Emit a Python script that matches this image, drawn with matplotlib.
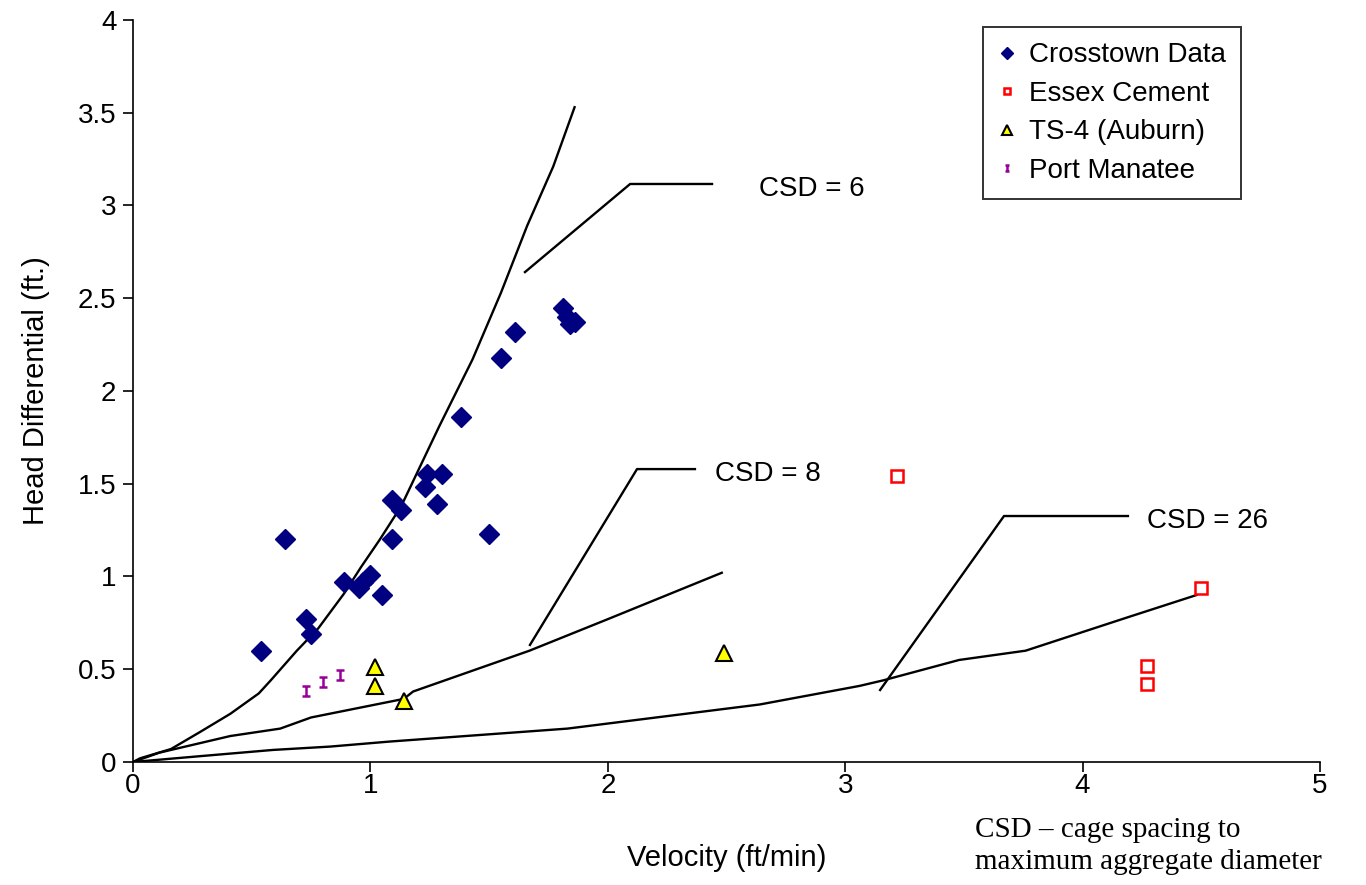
import matplotlib
matplotlib.use("Agg")
import matplotlib.pyplot as plt
from matplotlib.path import Path

plt.rcParams['font.family'] = ['Liberation Sans', 'DejaVu Sans']

# Measured data
crosstown_v = [0.54, 0.64, 0.73, 0.75, 0.89, 0.95, 0.97, 1.00, 1.05, 1.09, 1.09,
               1.13, 1.23, 1.24, 1.30, 1.28, 1.50, 1.38, 1.55, 1.61, 1.81, 1.83,
               1.84, 1.86]
crosstown_h = [0.60, 1.20, 0.77, 0.69, 0.97, 0.94, 0.97, 1.01, 0.90, 1.20, 1.41,
               1.36, 1.48, 1.55, 1.55, 1.39, 1.23, 1.86, 2.18, 2.32, 2.45, 2.40,
               2.36, 2.37]

essex_v = [3.22, 4.50, 4.27, 4.27]
essex_h = [1.54, 0.94, 0.52, 0.42]

ts4_v = [1.02, 1.02, 1.14, 2.49]
ts4_h = [0.51, 0.41, 0.33, 0.59]

manatee_v = [0.73, 0.80, 0.87]
manatee_h = [0.38, 0.43, 0.47]

# Fitted CSD curves
csd6_v = [0.0, 0.03, 0.16, 0.28, 0.41, 0.53, 0.58, 0.69, 0.78, 0.89, 0.96,
          1.04, 1.13, 1.29, 1.43, 1.55, 1.66, 1.77, 1.86]
csd6_h = [0.0, 0.02, 0.07, 0.16, 0.26, 0.37, 0.44, 0.60, 0.72, 0.91, 1.05,
          1.20, 1.38, 1.81, 2.17, 2.53, 2.89, 3.21, 3.53]

csd8_v = [0.0, 0.11, 0.41, 0.62, 0.75, 1.14, 1.18, 1.67, 2.00, 2.48]
csd8_h = [0.0, 0.05, 0.14, 0.18, 0.24, 0.34, 0.38, 0.60, 0.77, 1.02]

csd26_v = [0.0, 0.27, 0.59, 0.83, 1.08, 1.83, 2.64, 3.06, 3.16, 3.48, 3.76, 4.19, 4.48]
csd26_h = [0.0, 0.03, 0.065, 0.083, 0.11, 0.18, 0.31, 0.41, 0.44, 0.55, 0.60, 0.78, 0.90]

x_ticks = [0, 1, 2, 3, 4, 5]
y_ticks = [0, 0.5, 1, 1.5, 2, 2.5, 3, 3.5, 4]
y_tick_labels = ['0', '0.5', '1', '1.5', '2', '2.5', '3', '3.5', '4']

fig = plt.figure(figsize=(13.66, 8.85), dpi=100)
ax = fig.add_axes([0.0974, 0.1390, 0.8689, 0.8384])

# I-beam marker for Port Manatee
ibeam = Path([(-0.8, 1), (0.8, 1), (0, 1), (0, -1), (-0.8, -1), (0.8, -1)],
             [Path.MOVETO, Path.LINETO, Path.MOVETO, Path.LINETO, Path.MOVETO, Path.LINETO])

for v, h in [(csd6_v, csd6_h), (csd8_v, csd8_h), (csd26_v, csd26_h)]:
    ax.plot(v, h, color='black', lw=1.7, zorder=2)

ax.plot(crosstown_v, crosstown_h, ls='none', marker='D', ms=10.5, color='#000080',
        mec='#000080', label='Crosstown Data', zorder=3)
ax.plot(essex_v, essex_h, ls='none', marker='s', ms=9, mfc='white', mec='#ff0000',
        mew=1.8, label='Essex Cement', zorder=3)
ax.plot(ts4_v, ts4_h, ls='none', marker='^', ms=12, mfc='#ffff00', mec='black',
        mew=1.5, label='TS-4 (Auburn)', zorder=3)
ax.plot(manatee_v, manatee_h, ls='none', marker=ibeam, ms=7, color='#990099',
        mew=1.8, label='Port Manatee', zorder=3)

# Leader lines for the curve labels
leaders = [
    ([1.651, 2.094, 2.439], [2.641, 3.116, 3.116], 'CSD = 6', (2.637, 3.09)),
    ([1.672, 2.123, 2.367], [0.631, 1.579, 1.579], 'CSD = 8', (2.452, 1.55)),
    ([3.147, 3.669, 4.191], [0.388, 1.326, 1.326], 'CSD = 26', (4.271, 1.30)),
]
for lx, ly, txt, pos in leaders:
    ax.plot(lx, ly, color='black', lw=1.7, zorder=2)
    ax.text(pos[0], pos[1], txt, fontsize=20, ha='left', va='center')

ax.set_xlim(0, 5)
ax.set_ylim(0, 4)
ax.set_xticks(x_ticks)
ax.set_xticklabels([str(t) for t in x_ticks])
ax.set_yticks(y_ticks)
ax.set_yticklabels(y_tick_labels)
ax.tick_params(direction='out', length=7, width=1.2, labelsize=20)
ax.tick_params(axis='x', pad=1)
ax.tick_params(axis='y', pad=5)
ax.spines['top'].set_visible(False)
ax.spines['right'].set_visible(False)
ax.spines['left'].set_linewidth(1.2)
ax.spines['bottom'].set_linewidth(1.2)

ax.set_xlabel('Velocity (ft/min)', fontsize=21, labelpad=32)
ax.set_ylabel('Head Differential (ft.)', fontsize=21, labelpad=20)

leg = ax.legend(loc='upper left', bbox_to_anchor=(983 / 1366, 1 - 27 / 885),
                bbox_transform=fig.transFigure, fontsize=20, frameon=True,
                fancybox=False, edgecolor='black', handlelength=0.6,
                handletextpad=0.5, borderpad=0.55, labelspacing=0.45,
                markerscale=0.55, borderaxespad=0)
leg.get_frame().set_linewidth(1.4)

fig.text(975 / 1366, 1 - 830 / 885, 'CSD \u2013 cage spacing to',
         family='Liberation Serif', fontsize=21, va='center', ha='left')
fig.text(975 / 1366, 1 - 862 / 885, 'maximum aggregate diameter',
         family='Liberation Serif', fontsize=21, va='center', ha='left')

fig.savefig('out.png', dpi=100)
